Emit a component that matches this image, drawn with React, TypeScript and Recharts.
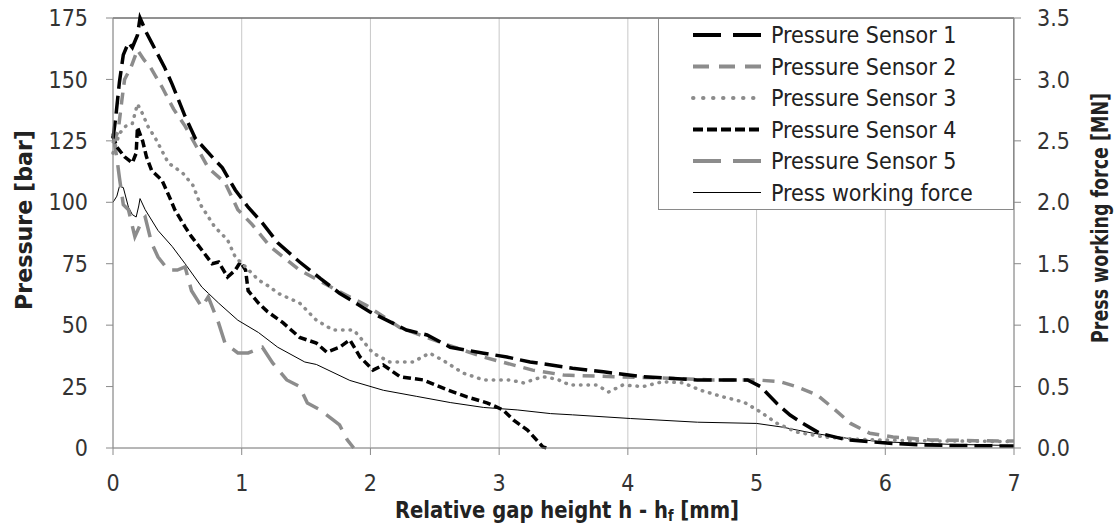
import { CartesianGrid, Label, Line, LineChart, ReferenceLine, XAxis, YAxis } from "recharts";

const FONT = "'DejaVu Sans Condensed', 'DejaVu Sans', sans-serif";
const GRAY = "#8c8c8c";
const AXIS = "#8a8a8a";
const GRID = "#c8c8c8";
const TEXT = "#333333";

// gap height [mm] vs. pressure [bar]
const sensor1 = [
  [0.0, 126], [0.02, 134], [0.05, 149], [0.08, 160], [0.12, 165], [0.15, 163], [0.19, 168],
  [0.21, 175], [0.26, 169], [0.3, 165], [0.36, 159], [0.4, 155], [0.46, 148], [0.56, 135],
  [0.64, 126], [0.77, 118.5], [0.85, 114], [0.95, 105], [1.05, 98], [1.16, 91.6], [1.28, 83.5],
  [1.45, 75.7], [1.61, 69], [1.76, 63], [2.0, 55.3], [2.28, 48], [2.44, 46], [2.62, 41],
  [2.88, 38.6], [3.06, 37], [3.24, 35], [3.57, 32.5], [3.81, 31], [4.12, 29], [4.54, 27.7],
  [4.93, 27.7], [5.03, 25], [5.16, 18], [5.26, 13.4], [5.36, 10], [5.49, 6], [5.7, 3.3],
  [6.01, 2], [6.3, 1.2], [6.6, 1], [7.0, 0.8],
];

const sensor2 = [
  [0.0, 124], [0.04, 129], [0.07, 142], [0.09, 150], [0.14, 155], [0.19, 162], [0.24, 158],
  [0.29, 155], [0.38, 147], [0.47, 138], [0.56, 131], [0.65, 122.5], [0.74, 114], [0.87, 108],
  [0.97, 97], [1.08, 91], [1.22, 82], [1.45, 72.4], [1.71, 65], [1.97, 58], [2.23, 49],
  [2.56, 42.7], [2.88, 37], [3.26, 31.7], [3.5, 29.7], [3.89, 29], [4.27, 28.5], [4.66, 27.7],
  [5.0, 27.7], [5.18, 27], [5.31, 25], [5.47, 21.6], [5.6, 16], [5.73, 10], [5.88, 6],
  [6.06, 4.5], [6.35, 3.3], [6.7, 3], [7.0, 2.8],
];

const sensor3 = [
  [0.0, 120], [0.05, 128], [0.1, 131], [0.15, 132], [0.19, 140], [0.23, 136], [0.27, 131],
  [0.33, 126], [0.43, 116], [0.54, 112], [0.62, 107], [0.68, 99], [0.79, 90], [0.89, 84.7],
  [0.95, 77.7], [1.03, 73.7], [1.13, 68.4], [1.22, 65.5], [1.28, 63], [1.45, 59], [1.58, 52],
  [1.71, 48], [1.87, 48], [1.92, 45], [2.02, 38.6], [2.15, 35], [2.33, 35], [2.46, 38.6],
  [2.56, 35.8], [2.72, 30.5], [2.88, 27.7], [3.08, 27.7], [3.19, 26.5], [3.34, 29], [3.45, 28],
  [3.55, 25.6], [3.76, 25.6], [3.85, 22.8], [3.96, 25.6], [4.12, 25], [4.27, 27], [4.43, 26.5],
  [4.56, 23.6], [4.74, 20.8], [4.9, 18.7], [5.03, 14.7], [5.16, 10], [5.31, 6.5], [5.52, 4.5],
  [5.8, 3.5], [6.2, 3], [6.6, 2.8], [7.0, 2.6],
];

const sensor4 = [
  [0.0, 127], [0.03, 122.5], [0.09, 118.5], [0.15, 116], [0.18, 120], [0.19, 130.6], [0.23, 125],
  [0.26, 118.5], [0.3, 113], [0.38, 109], [0.44, 102], [0.48, 97], [0.56, 90], [0.61, 86],
  [0.69, 80.6], [0.77, 75], [0.82, 75.7], [0.89, 69.6], [0.95, 72.4], [0.99, 75.7], [1.03, 72.4],
  [1.05, 64], [1.13, 59], [1.2, 55.5], [1.32, 51], [1.45, 45], [1.58, 42.7], [1.66, 39],
  [1.76, 41], [1.84, 44], [1.92, 37], [2.02, 31.7], [2.1, 33.8], [2.23, 29], [2.41, 27.7],
  [2.6, 23.6], [2.75, 20.8], [2.91, 18.3], [3.03, 15.5], [3.11, 11.4], [3.22, 7.3], [3.29, 3.3],
  [3.34, 0.4], [3.37, 0],
];

const sensor5 = [
  [0.0, 128], [0.03, 118], [0.05, 110], [0.08, 99], [0.12, 97], [0.17, 86], [0.23, 93],
  [0.25, 94], [0.3, 83.4], [0.35, 77.7], [0.43, 72.4], [0.5, 72.4], [0.56, 73.7], [0.61, 64],
  [0.69, 57.4], [0.74, 61.5], [0.82, 50.9], [0.87, 42.7], [0.97, 38.7], [1.05, 38.7], [1.16, 41],
  [1.24, 34.6], [1.35, 27.7], [1.45, 25], [1.51, 18.3], [1.61, 15.5], [1.71, 11.4], [1.76, 9.4],
  [1.82, 3.3], [1.87, 0],
];

// gap height [mm] vs. press working force [MN]
const pressForce = [
  [0.0, 2.0], [0.03, 2.05], [0.05, 2.13], [0.08, 2.12], [0.12, 1.96], [0.15, 1.9], [0.18, 1.88],
  [0.2, 1.97], [0.21, 2.03], [0.25, 1.94], [0.35, 1.77], [0.46, 1.64], [0.56, 1.5], [0.69, 1.31],
  [0.82, 1.18], [0.97, 1.04], [1.13, 0.94], [1.28, 0.82], [1.49, 0.7], [1.58, 0.68], [1.84, 0.55],
  [2.1, 0.47], [2.36, 0.42], [2.62, 0.37], [2.88, 0.33], [3.14, 0.31], [3.4, 0.28], [3.57, 0.27],
  [4.02, 0.24], [4.54, 0.21], [5.0, 0.2], [5.2, 0.17], [5.44, 0.12], [5.7, 0.08], [5.98, 0.05],
  [6.5, 0.03], [7.0, 0.02],
];

const xTicks = [0, 1, 2, 3, 4, 5, 6, 7];
const pressureTicks = [0, 25, 50, 75, 100, 125, 150, 175];
const forceTicks = [0, 0.5, 1.0, 1.5, 2.0, 2.5, 3.0, 3.5];

const legendItems = [
  { name: "Pressure Sensor 1", color: "#000", dash: "28 12", width: 4, cap: "butt" },
  { name: "Pressure Sensor 2", color: GRAY, dash: "16 10", width: 4, cap: "butt" },
  { name: "Pressure Sensor 3", color: GRAY, dash: "0.5 9.5", width: 4, cap: "round" },
  { name: "Pressure Sensor 4", color: "#000", dash: "10 4", width: 4, cap: "butt" },
  { name: "Pressure Sensor 5", color: GRAY, dash: "28 12", width: 4, cap: "butt" },
  { name: "Press working force", color: "#000", dash: undefined, width: 1.2, cap: "butt" },
];

const toPoints = (pts: number[][]) => pts.map(([x, y]) => ({ x, y }));

function ChartLegend() {
  return (
    <div
      style={{
        position: "absolute",
        left: 658,
        top: 18,
        width: 354,
        height: 190,
        background: "#fff",
        border: `1px solid ${AXIS}`,
      }}
    >
      <svg width={354} height={190}>
        {legendItems.map((item, i) => {
          const cy = 16 + i * 31.5;
          return (
            <g key={item.name}>
              <line
                x1={34}
                x2={102}
                y1={cy}
                y2={cy}
                stroke={item.color}
                strokeWidth={item.width}
                strokeDasharray={item.dash}
                strokeLinecap={item.cap as any}
              />
              <text x={112} y={cy} dominantBaseline="central" fontFamily={FONT} fontSize={23} fill="#222">
                {item.name}
              </text>
            </g>
          );
        })}
      </svg>
    </div>
  );
}

export default function App() {
  const tick = { fill: TEXT, fontSize: 23, fontFamily: FONT };
  const axisLine = { stroke: AXIS };
  const title = { fontFamily: FONT, fontSize: 23, fontWeight: "bold", fill: "#222" } as const;

  return (
    <div style={{ position: "relative", width: 1117, height: 528 }}>
      <style>{"body{margin:0;overflow:hidden}"}</style>
      <LineChart width={1117} height={528} margin={{ top: 18, right: 43, bottom: 40, left: 53 }}>
        <CartesianGrid stroke={GRID} />
        <XAxis
          type="number"
          dataKey="x"
          domain={[0, 7]}
          ticks={xTicks}
          height={40}
          tick={tick}
          tickSize={7}
          tickMargin={20}
          axisLine={axisLine}
          tickLine={axisLine}
        >
          <Label
            content={() => (
              <text x={567} y={510} textAnchor="middle" dominantBaseline="central" textLength={344} lengthAdjust="spacingAndGlyphs" {...title}>
                Relative gap height h - h
                <tspan fontSize={15} dy={6}>f</tspan>
                <tspan dy={-6}> [mm]</tspan>
              </text>
            )}
          />
        </XAxis>
        <YAxis
          yAxisId="left"
          type="number"
          domain={[0, 175]}
          ticks={pressureTicks}
          width={60}
          tick={tick}
          tickSize={7}
          tickMargin={18}
          axisLine={axisLine}
          tickLine={axisLine}
        >
          <Label
            content={() => (
              <text x={24} y={220} transform="rotate(-90 24 220)" textAnchor="middle" dominantBaseline="central" textLength={180} lengthAdjust="spacingAndGlyphs" {...title}>
                Pressure [bar]
              </text>
            )}
          />
        </YAxis>
        <YAxis
          yAxisId="right"
          orientation="right"
          type="number"
          domain={[0, 3.5]}
          ticks={forceTicks}
          width={60}
          tick={tick}
          tickSize={7}
          tickMargin={16}
          tickFormatter={(v: number) => v.toFixed(1)}
          axisLine={axisLine}
          tickLine={axisLine}
        >
          <Label
            content={() => (
              <text x={1100} y={218} transform="rotate(-90 1100 218)" textAnchor="middle" dominantBaseline="central" textLength={250} lengthAdjust="spacingAndGlyphs" {...title}>
                Press working force [MN]
              </text>
            )}
          />
        </YAxis>
        <ReferenceLine yAxisId="left" y={175} stroke="#404040" strokeWidth={1} />

        <Line yAxisId="right" data={toPoints(pressForce)} dataKey="y" type="linear" stroke="#000" strokeWidth={1} dot={false} isAnimationActive={false} />
        <Line yAxisId="left" data={toPoints(sensor5)} dataKey="y" type="linear" stroke={GRAY} strokeWidth={3.5} strokeDasharray="22 10" dot={false} isAnimationActive={false} />
        <Line yAxisId="left" data={toPoints(sensor4)} dataKey="y" type="linear" stroke="#000" strokeWidth={3.5} strokeDasharray="8 4" dot={false} isAnimationActive={false} />
        <Line yAxisId="left" data={toPoints(sensor3)} dataKey="y" type="linear" stroke={GRAY} strokeWidth={3.5} strokeDasharray="0.5 7" strokeLinecap="round" dot={false} isAnimationActive={false} />
        <Line yAxisId="left" data={toPoints(sensor2)} dataKey="y" type="linear" stroke={GRAY} strokeWidth={3.5} strokeDasharray="12 8" dot={false} isAnimationActive={false} />
        <Line yAxisId="left" data={toPoints(sensor1)} dataKey="y" type="linear" stroke="#000" strokeWidth={3.5} strokeDasharray="18 7" dot={false} isAnimationActive={false} />
      </LineChart>
      <ChartLegend />
    </div>
  );
}
